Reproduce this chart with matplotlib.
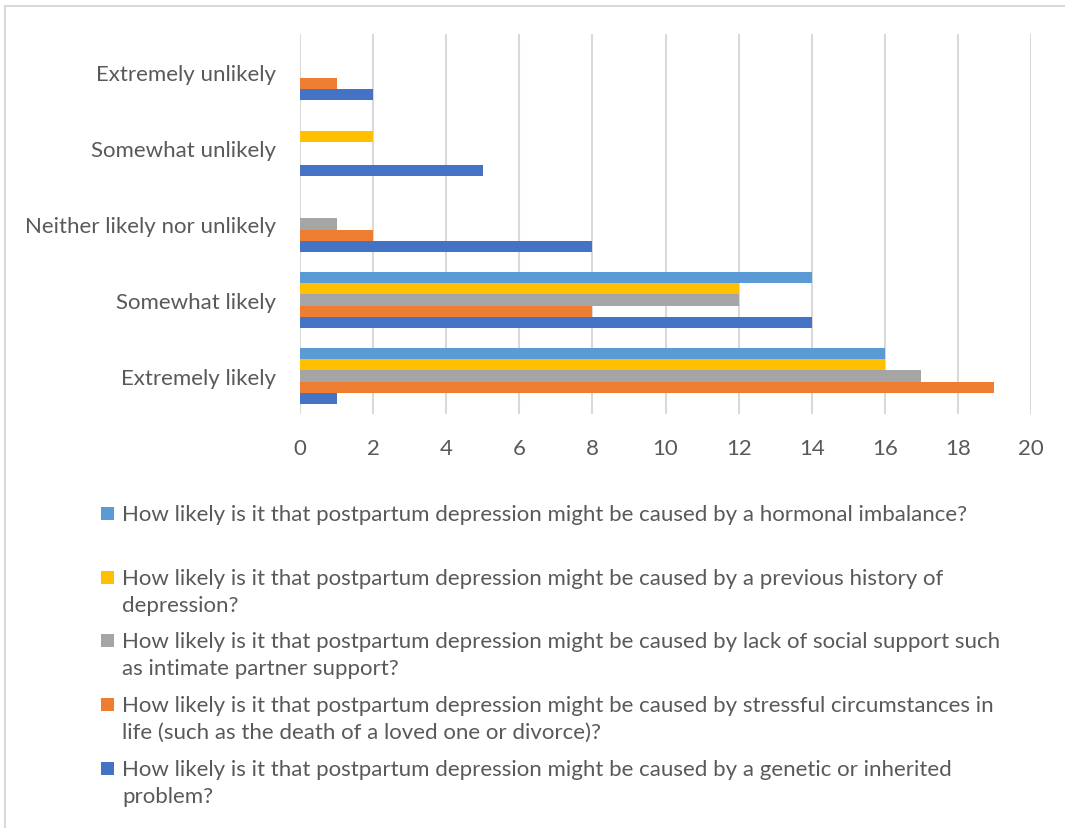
import matplotlib
matplotlib.use("Agg")
import matplotlib.pyplot as plt
from matplotlib.patches import Rectangle
from matplotlib.lines import Line2D
import numpy as np

plt.rcParams["font.family"] = ["Lato", "DejaVu Sans"]

categories = ["Extremely likely", "Somewhat likely", "Neither likely nor unlikely",
              "Somewhat unlikely", "Extremely unlikely"]

# responses per category (same order as categories), one list per question
genetic = [1, 14, 8, 5, 2]
stressful = [19, 8, 2, 0, 1]
social_support = [17, 12, 1, 0, 0]
previous_history = [16, 12, 0, 2, 0]
hormonal = [16, 14, 0, 0, 0]

series_labels = [
    "How likely is it that postpartum depression might be caused by a genetic or inherited\nproblem?",
    "How likely is it that postpartum depression might be caused by stressful circumstances in\nlife (such as the death of a loved one or divorce)?",
    "How likely is it that postpartum depression might be caused by lack of social support such\nas intimate partner support?",
    "How likely is it that postpartum depression might be caused by a previous history of\ndepression?",
    "How likely is it that postpartum depression might be caused by a hormonal imbalance?",
]
series_values = [genetic, stressful, social_support, previous_history, hormonal]
colors = ["#4472C4", "#ED7D31", "#A5A5A5", "#FFC000", "#5B9BD5"]
xticks = [0, 2, 4, 6, 8, 10, 12, 14, 16, 18, 20]

text_color = "#595959"
grid_color = "#D9D9D9"
fs = 16

fig = plt.figure(figsize=(10.65, 8.29), dpi=100)
ax = fig.add_axes([300 / 1065, 1 - 415 / 829, 731 / 1065, 380 / 829])

y = np.arange(len(categories))
h = 0.147
for i, (vals, col) in enumerate(zip(series_values, colors)):
    ax.barh(y + (i - 2) * h, vals, height=h, color=col, zorder=3)

ax.set_xlim(0, 20)
ax.set_ylim(-0.5, len(categories) - 0.5)
ax.set_xticks(xticks)
ax.set_xticklabels([str(t) for t in xticks])
ax.set_yticks(y)
ax.set_yticklabels(categories)
ax.tick_params(axis="x", length=0, pad=17, labelsize=fs, labelcolor=text_color)
ax.tick_params(axis="y", length=0, pad=17, labelsize=fs, labelcolor=text_color)
ax.xaxis.grid(True, color=grid_color, linewidth=1.5, zorder=0)
for s in ax.spines.values():
    s.set_visible(False)

# legend drawn as stacked entries below the plot
slot_centers = [514, 578, 641, 705, 769]
for c, label, col in zip(slot_centers, series_labels[::-1], colors[::-1]):
    fig.patches.append(Rectangle((101 / 1065, 1 - (c + 6.5) / 829), 13 / 1065, 13 / 829,
                                 transform=fig.transFigure, facecolor=col, edgecolor="none"))
    fig.text(122 / 1065, 1 - (c - 9) / 829, label, fontsize=fs, color=text_color,
             va="top", ha="left", linespacing=1.45)

# chart frame
fig.add_artist(Line2D([5 / 1065, 1], [1 - 7 / 829, 1 - 7 / 829], color=grid_color,
                      linewidth=1.5, transform=fig.transFigure))
fig.add_artist(Line2D([5 / 1065, 5 / 1065], [0, 1 - 7 / 829], color=grid_color,
                      linewidth=1.5, transform=fig.transFigure))

fig.savefig("out.png", dpi=100, facecolor="white")
